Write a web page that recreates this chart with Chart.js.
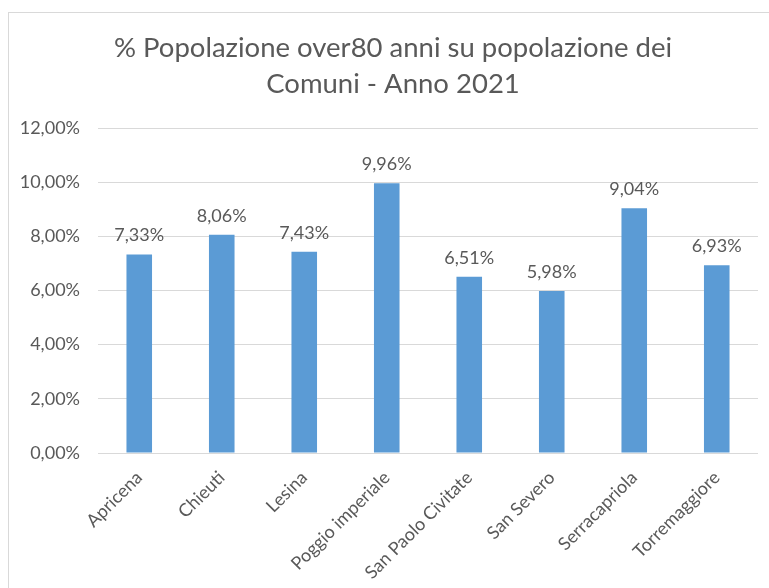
<!DOCTYPE html>
<html lang="it">
<head>
  <meta charset="UTF-8" />
  <title>% Popolazione over80</title>
  <script src="https://cdn.jsdelivr.net/npm/chart.js"></script>
  <style>
    body {
      margin: 0;
      background: #ffffff;
    }
    .wrap {
      position: relative;
      width: 769px;
      height: 588px;
    }
    .frame {
      position: absolute;
      left: 8px;
      top: 12px;
      width: 780px;
      height: 600px;
      border: 1px solid #d9d9d9;
      box-sizing: border-box;
    }
    canvas {
      position: absolute;
      left: 0;
      top: 0;
    }
  </style>
</head>
<body>
  <div class="wrap">
    <div class="frame"></div>
    <canvas id="chart" width="769" height="588"></canvas>
  </div>
  <script>
    const comuni = ['Apricena', 'Chieuti', 'Lesina', 'Poggio imperiale', 'San Paolo Civitate', 'San Severo', 'Serracapriola', 'Torremaggiore'];
    const percentuali = [7.33, 8.06, 7.43, 9.96, 6.51, 5.98, 9.04, 6.93];
    const titolo = ['% Popolazione over80 anni su popolazione dei', 'Comuni - Anno 2021'];

    const fmt = v => v.toFixed(2).replace('.', ',') + '%';
    const font = 'Lato';

    // titolo centrato sul riquadro, non sull'area del grafico
    const titlePlugin = {
      id: 'titoloCentrato',
      afterDraw(chart) {
        const ctx = chart.ctx;
        ctx.save();
        ctx.font = '27.5px ' + font;
        ctx.fillStyle = '#595959';
        ctx.textAlign = 'center';
        ctx.textBaseline = 'middle';
        titolo.forEach((riga, i) => {
          ctx.fillText(riga, 393, 48 + i * 36);
        });
        ctx.restore();
      }
    };

    // etichette sopra le barre
    const valueLabels = {
      id: 'valueLabels',
      afterDatasetsDraw(chart) {
        const ctx = chart.ctx;
        const meta = chart.getDatasetMeta(0);
        ctx.save();
        ctx.font = '18px ' + font;
        ctx.fillStyle = '#595959';
        ctx.textAlign = 'center';
        ctx.textBaseline = 'bottom';
        meta.data.forEach((bar, i) => {
          ctx.fillText(fmt(percentuali[i]), bar.x, bar.y - 10);
        });
        ctx.restore();
      }
    };

    new Chart(document.getElementById('chart'), {
      type: 'bar',
      data: {
        labels: comuni,
        datasets: [{
          data: percentuali,
          backgroundColor: '#5b9bd5',
          categoryPercentage: 1,
          barPercentage: 0.31
        }]
      },
      options: {
        responsive: false,
        animation: false,
        layout: { padding: { left: 0, right: 11, top: 128, bottom: 0 } },
        plugins: {
          legend: { display: false },
          tooltip: { enabled: false },
          title: { display: false }
        },
        scales: {
          x: {
            grid: { display: false },
            border: { display: false },
            ticks: {
              color: '#595959',
              font: { family: font, size: 18 },
              minRotation: 45,
              maxRotation: 45,
              padding: 6
            },
            afterFit(scale) { scale.height = 135; }
          },
          y: {
            min: 0,
            max: 12,
            ticks: {
              stepSize: 2,
              color: '#595959',
              font: { family: font, size: 18 },
              padding: 18,
              callback: v => fmt(v)
            },
            grid: { color: '#d9d9d9', lineWidth: 1, drawTicks: false },
            border: { display: false },
            afterFit(scale) { scale.width = 98; }
          }
        }
      },
      plugins: [valueLabels, titlePlugin]
    });
  </script>
</body>
</html>
